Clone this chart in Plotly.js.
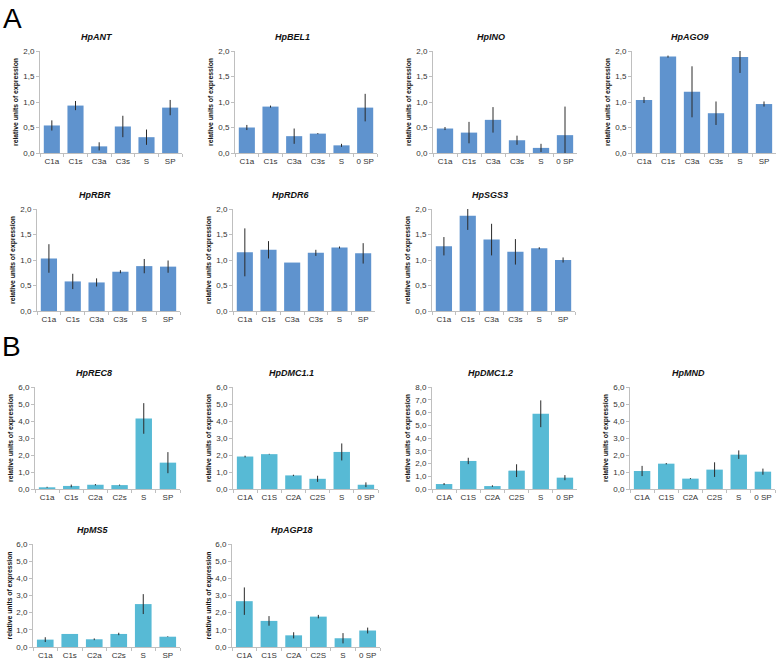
<!DOCTYPE html>
<html>
<head>
<meta charset="utf-8">
<script src="https://cdn.plot.ly/plotly-3.0.1.min.js"></script>
<style>html,body{margin:0;padding:0;background:#fff;}#chart{width:778px;height:660px;}</style>
</head>
<body>
<div id="chart"></div>
<script>
// ---- categories ----
const catsA1 = ['C1a', 'C1s', 'C3a', 'C3s', 'S', 'SP'];
const catsA2 = ['C1a', 'C1s', 'C3a', 'C3s', 'S', '0 SP'];
const catsB1 = ['C1a', 'C1s', 'C2a', 'C2s', 'S', 'SP'];
const catsB2 = ['C1A', 'C1S', 'C2A', 'C2S', 'S', '0 SP'];

// ---- panel A values / errors ----
const antVals  = [0.54, 0.93, 0.13, 0.52, 0.31, 0.89];
const antErr   = [0.10, 0.09, 0.08, 0.21, 0.15, 0.15];
const bel1Vals = [0.50, 0.91, 0.33, 0.38, 0.15, 0.89];
const bel1Err  = [0.05, 0.02, 0.15, 0.01, 0.03, 0.27];
const inoVals  = [0.48, 0.40, 0.65, 0.25, 0.10, 0.35];
const inoErr   = [0.03, 0.21, 0.25, 0.09, 0.08, 0.56];
const ago9Vals = [1.04, 1.89, 1.20, 0.78, 1.88, 0.96];
const ago9Err  = [0.06, 0.02, 0.50, 0.23, 0.31, 0.05];
const rbrVals  = [1.03, 0.58, 0.56, 0.77, 0.88, 0.87];
const rbrErr   = [0.28, 0.15, 0.08, 0.03, 0.14, 0.12];
const rdr6Vals = [1.15, 1.20, 0.95, 1.14, 1.245, 1.13];
const rdr6Err  = [0.47, 0.17, 0.00, 0.06, 0.02, 0.20];
const sgs3Vals = [1.27, 1.87, 1.40, 1.16, 1.23, 1.00];
const sgs3Err  = [0.18, 0.28, 0.31, 0.25, 0.02, 0.05];

// ---- panel B values / errors ----
const rec8Vals   = [0.10, 0.18, 0.25, 0.23, 4.15, 1.55];
const rec8Err    = [0.03, 0.08, 0.04, 0.03, 0.90, 0.62];
const dmc11Vals  = [1.91, 2.05, 0.80, 0.60, 2.18, 0.25];
const dmc11Err   = [0.05, 0.02, 0.04, 0.18, 0.50, 0.14];
const dmc12Vals  = [0.39, 2.20, 0.23, 1.44, 5.90, 0.89];
const dmc12Err   = [0.08, 0.25, 0.06, 0.50, 1.05, 0.20];
const mndVals    = [1.06, 1.49, 0.61, 1.14, 2.02, 1.02];
const mndErr     = [0.30, 0.04, 0.03, 0.43, 0.25, 0.18];
const ms5Vals    = [0.43, 0.76, 0.45, 0.76, 2.50, 0.60];
const ms5Err     = [0.14, 0.00, 0.05, 0.07, 0.58, 0.02];
const agp18Vals  = [2.67, 1.52, 0.68, 1.77, 0.51, 0.96];
const agp18Err   = [0.80, 0.28, 0.18, 0.10, 0.30, 0.17];

// ---- gene titles ----
const geneTitles = ['HpANT', 'HpBEL1', 'HpINO', 'HpAGO9', 'HpRBR', 'HpRDR6', 'HpSGS3',
                    'HpREC8', 'HpDMC1.1', 'HpDMC1.2', 'HpMND', 'HpMS5', 'HpAGP18'];
const yMaxes = [2, 2, 2, 2, 2, 2, 2, 6, 6, 8, 6, 6, 6];

// ---- assembly ----
const W = 778, H = 660;
const colA = '#5F93CE', colB = '#57BAD5';
const series = [
  [catsA1, antVals, antErr, colA], [catsA2, bel1Vals, bel1Err, colA],
  [catsA2, inoVals, inoErr, colA], [catsA1, ago9Vals, ago9Err, colA],
  [catsA1, rbrVals, rbrErr, colA], [catsA1, rdr6Vals, rdr6Err, colA],
  [catsA1, sgs3Vals, sgs3Err, colA],
  [catsB1, rec8Vals, rec8Err, colB], [catsB2, dmc11Vals, dmc11Err, colB],
  [catsB2, dmc12Vals, dmc12Err, colB], [catsB2, mndVals, mndErr, colB],
  [catsB1, ms5Vals, ms5Err, colB], [catsB2, agp18Vals, agp18Err, colB]
];
// plot-area boxes in pixels: [left, right, top, bottom]
const boxes = [
  [40, 182, 51, 153], [235, 377, 51, 153], [433, 577, 51, 153], [632, 776, 51, 153],
  [37, 180, 209, 311], [233, 375, 209, 311], [432, 575, 209, 311],
  [35, 180, 387, 489], [233, 378, 387, 489], [432, 577, 387, 489], [630, 775, 387, 489],
  [33, 180, 544, 647], [232, 380, 544, 647]
];

const font = 'Liberation Sans, Arial, sans-serif';
const traces = [];
const layout = {
  width: W, height: H,
  margin: {l: 0, r: 0, t: 0, b: 0},
  paper_bgcolor: '#fff', plot_bgcolor: '#fff',
  showlegend: false,
  separators: ', ',
  font: {family: font, color: '#333'},
  bargap: 0.32,
  annotations: []
};

series.forEach((s, i) => {
  const n = i === 0 ? '' : String(i + 1);
  const b = boxes[i];
  traces.push({
    type: 'bar', x: s[0], y: s[1],
    xaxis: 'x' + n, yaxis: 'y' + n,
    marker: {color: s[3], line: {width: 0}},
    error_y: {type: 'data', array: s[2], visible: true, thickness: 1, width: 0, color: '#2a2a2a'},
    hoverinfo: 'x+y'
  });
  layout['xaxis' + n] = {
    domain: [b[0] / W, b[1] / W], anchor: 'y' + n, type: 'category',
    showline: true, linecolor: '#BFBFBF', linewidth: 1,
    ticks: 'outside', tickson: 'boundaries', ticklen: 3, tickcolor: '#BFBFBF',
    tickangle: 0, automargin: false,
    showgrid: false, zeroline: false,
    tickfont: {size: 8, color: '#333', family: font}, fixedrange: true
  };
  layout['yaxis' + n] = {
    domain: [1 - b[3] / H, 1 - b[2] / H], anchor: 'x' + n,
    range: [0, yMaxes[i]], dtick: yMaxes[i] === 2 ? 0.5 : 1, tickformat: '.1f',
    showline: true, linecolor: '#BFBFBF', linewidth: 1,
    ticks: 'outside', ticklen: 3, tickcolor: '#BFBFBF', automargin: false,
    showgrid: false, zeroline: false,
    tickfont: {size: 8, color: '#333', family: font}, fixedrange: true
  };
  layout.annotations.push({
    text: '<b><i>' + geneTitles[i] + '</i></b>',
    xref: 'paper', yref: 'paper',
    x: ((b[0] + b[1]) / 2 - 14) / W, y: 1 - (b[2] - 14) / H,
    xanchor: 'center', yanchor: 'middle', showarrow: false,
    font: {size: 9, color: '#111', family: font}
  });
  layout.annotations.push({
    text: '<b>relative units of expression</b>',
    xref: 'paper', yref: 'paper',
    x: (b[0] - 24) / W, y: 1 - ((b[2] + b[3]) / 2) / H,
    xanchor: 'center', yanchor: 'middle', textangle: -90, showarrow: false,
    font: {size: 6.8, color: '#111', family: font}
  });
});

layout.annotations.push({text: 'A', xref: 'paper', yref: 'paper', x: 1 / W, y: 1 - 1 / H,
  xanchor: 'left', yanchor: 'top', showarrow: false, font: {size: 28, color: '#000', family: font}});
layout.annotations.push({text: 'B', xref: 'paper', yref: 'paper', x: 0 / W, y: 1 - 329 / H,
  xanchor: 'left', yanchor: 'top', showarrow: false, font: {size: 28, color: '#000', family: font}});

Plotly.newPlot('chart', traces, layout, {staticPlot: true, displayModeBar: false});
</script>
</body>
</html>
